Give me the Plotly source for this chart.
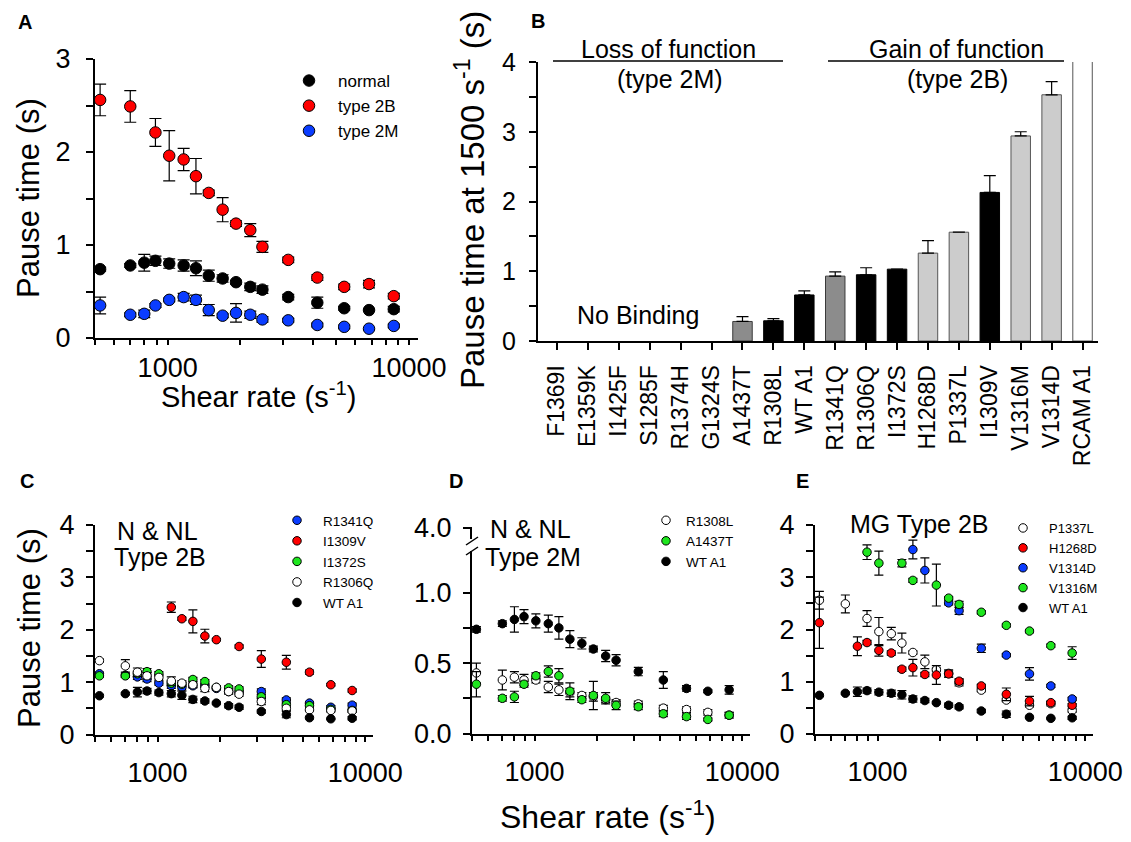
import plotly.graph_objects as go

# The page body adds an 8 px margin, so the figure is laid out in reference pixels shifted by it.
OFF = 8
FW, FH = 1131 - OFF, 842 - OFF
FONT = "Liberation Sans, Arial, sans-serif"

# ---------------- data ----------------
shear = [525, 700, 800, 890, 1015, 1165, 1310, 1480, 1690, 1920, 2200, 2470, 3160, 4170, 5390, 6830, 8650]

wt_y = [0.74, 0.78, 0.81, 0.83, 0.80, 0.78, 0.75, 0.67, 0.64, 0.60, 0.55, 0.52, 0.44, 0.38, 0.32, 0.30, 0.31]
wt_e = [0.02, 0.02, 0.09, 0.05, 0.05, 0.06, 0.08, 0.06, 0.04, 0.02, 0.04, 0.04, 0.03, 0.06, 0.02, 0.01, 0.03]

p1337l_idx = [0, 1, 3, 4, 5, 6, 7, 8, 9, 10, 11, 12, 13, 14, 15, 16]
p1337l_y = [2.56, 2.49, 2.21, 1.96, 1.92, 1.74, 1.56, 1.38, 1.23, 1.16, 0.98, 0.84, 0.65, 0.55, 0.58, 0.45]
p1337l_e = [0.17, 0.17, 0.15, 0.27, 0.12, 0.19, 0.03, 0.13, 0.03, 0.07, 0.06, 0.03, 0.03, 0.03, 0.04, 0.03]

a1437t_y = [0.35, 0.25, 0.26, 0.35, 0.41, 0.44, 0.41, 0.30, 0.24, 0.27, 0.25, 0.20, 0.19, 0.14, 0.12, 0.10, 0.13]
a1437t_e = [0.09, 0.02, 0.04, 0.02, 0.02, 0.04, 0.05, 0.06, 0.02, 0.10, 0.04, 0.03, 0.02, 0.02, 0.02, 0.01, 0.02]

r1308l_y = [0.43, 0.38, 0.40, 0.38, 0.38, 0.33, 0.31, 0.29, 0.27, 0.26, 0.24, 0.22, 0.21, 0.18, 0.17, 0.15, 0.13]
r1308l_e = [0.07, 0.07, 0.04, 0.04, 0.02, 0.04, 0.04, 0.03, 0.02, 0.03, 0.02, 0.02, 0.02, 0.02, 0.02, 0.02, 0.02]

r1341q_y = [1.16, 1.13, 1.10, 1.06, 0.98, 0.93, 0.90, 0.93, 0.93, 0.88, 0.82, 0.80, 0.82, 0.66, 0.60, 0.52, 0.56]
r1341q_e = [0.03, 0.04, 0.05, 0.05, 0.04, 0.05, 0.05, 0.04, 0.03, 0.03, 0.04, 0.04, 0.05, 0.04, 0.03, 0.03, 0.04]

i1309v_idx = [5, 6, 7, 8, 9, 11, 12, 13, 14, 15, 16]
i1309v_y = [2.43, 2.21, 2.16, 1.88, 1.81, 1.68, 1.44, 1.38, 1.19, 0.95, 0.84]
i1309v_e = [0.10, 0.03, 0.22, 0.13, 0.02, 0.03, 0.16, 0.13, 0.04, 0.02, 0.03]

i1372s_y = [1.12, 1.12, 1.16, 1.20, 1.16, 0.98, 0.96, 1.05, 1.01, 0.90, 0.89, 0.87, 0.72, 0.57, 0.55, 0.48, 0.46]
i1372s_e = [0.03, 0.03, 0.05, 0.06, 0.04, 0.04, 0.04, 0.04, 0.04, 0.03, 0.04, 0.04, 0.04, 0.03, 0.03, 0.03, 0.03]

r1306q_y = [1.41, 1.31, 1.19, 1.12, 1.09, 1.02, 0.98, 0.95, 0.88, 0.90, 0.82, 0.77, 0.63, 0.50, 0.47, 0.46, 0.45]
r1306q_e = [0.03, 0.12, 0.08, 0.06, 0.05, 0.08, 0.05, 0.05, 0.06, 0.03, 0.05, 0.04, 0.06, 0.04, 0.03, 0.03, 0.03]

h1268d_idx = [0, 2, 3, 4, 5, 6, 7, 8, 9, 10, 11, 12, 13, 14, 15, 16]
h1268d_y = [2.13, 1.68, 1.75, 1.60, 1.55, 1.24, 1.27, 1.14, 1.13, 1.15, 1.01, 0.92, 0.76, 0.63, 0.60, 0.55]
h1268d_e = [0.49, 0.18, 0.04, 0.11, 0.04, 0.04, 0.16, 0.04, 0.18, 0.06, 0.05, 0.03, 0.12, 0.09, 0.03, 0.03]

v1314d_idx = [7, 8, 10, 11, 12, 13, 14, 15, 16]
v1314d_y = [3.53, 3.13, 2.51, 2.36, 1.64, 1.51, 1.15, 0.92, 0.67]
v1314d_e = [0.18, 0.24, 0.04, 0.07, 0.08, 0.03, 0.12, 0.03, 0.03]

v1316m_idx = [3, 4, 6, 7, 9, 10, 11, 12, 13, 14, 15, 16]
v1316m_y = [3.48, 3.27, 3.27, 2.94, 2.85, 2.60, 2.48, 2.33, 2.08, 1.97, 1.69, 1.55]
v1316m_e = [0.14, 0.23, 0.07, 0.04, 0.40, 0.03, 0.06, 0.03, 0.03, 0.03, 0.03, 0.12]

bar_cats = ["F1369I", "E1359K", "I1425F", "S1285F", "R1374H", "G1324S", "A1437T", "R1308L",
            "WT A1", "R1341Q", "R1306Q", "I1372S", "H1268D", "P1337L", "I1309V", "V1316M",
            "V1314D", "RCAM A1"]
bar_vals = [None, None, None, None, None, None, 0.28, 0.29, 0.66, 0.93, 0.95, 1.03, 1.26, 1.56,
            2.13, 2.94, 3.53, None]
bar_errs = [0, 0, 0, 0, 0, 0, 0.07, 0.03, 0.06, 0.06, 0.10, 0, 0.18, 0, 0.24, 0.06, 0.19, 0]
bar_group = ["", "", "", "", "", "", "mid", "dark", "dark", "mid", "dark", "dark", "light", "light",
             "dark", "light", "light", "off"]
rcam_val = 5.0  # off-scale (never releases)

log_major = [1000, 10000]
log_minor = [500, 600, 700, 800, 900, 2000, 3000, 4000, 5000, 6000, 7000, 8000, 9000]

# ---------------- helpers ----------------
def px(x):
    return (x - OFF) / FW


def py(y):
    return 1 - (y - OFF) / FH


def sub(vals, idx):
    return [vals[i] for i in idx]


RED = "#ff0000"
BLUE = "#0a3cff"
GREEN = "#1ee61e"

fig = go.Figure()


def add_series(x, y, e, color, name, xa, ya, leg, size, capw):
    fig.add_trace(go.Scatter(
        x=x, y=y, mode="markers", name=name, xaxis=xa, yaxis=ya, legend=leg,
        marker=dict(size=size, color=color, line=dict(color="black", width=1)),
        error_y=dict(type="data", array=e, color="black", thickness=1.2, width=capw),
        cliponaxis=False,
    ))


# Panel A
add_series(shear, wt_y, wt_e, "black", "normal", "x", "y", "legend", 11.5, 6)
add_series(sub(shear, p1337l_idx), p1337l_y, p1337l_e, RED, "type 2B", "x", "y", "legend", 11.5, 6)
add_series(shear, a1437t_y, a1437t_e, BLUE, "type 2M", "x", "y", "legend", 11.5, 6)

# Panel B
col_map = {"dark": "black", "mid": "#8c8c8c", "light": "#cccccc", "off": "white", "": "white"}
line_map = {"dark": "black", "mid": "#3a3a3a", "light": "#555555", "off": "#555555", "": "#555555"}
b_vals = [rcam_val if g == "off" else v for v, g in zip(bar_vals, bar_group)]
fig.add_trace(go.Bar(
    x=bar_cats, y=b_vals, xaxis="x2", yaxis="y2", width=0.63, showlegend=False,
    marker=dict(color=[col_map[g] for g in bar_group],
                line=dict(color=[line_map[g] for g in bar_group], width=1)),
    error_y=dict(type="data", symmetric=False, array=bar_errs, arrayminus=[0] * len(bar_errs),
                 color="black", thickness=1.2, width=6),
))

# Panel C
for x, y, e, c, n in [
    (shear, r1341q_y, r1341q_e, BLUE, "R1341Q"),
    (sub(shear, i1309v_idx), i1309v_y, i1309v_e, RED, "I1309V"),
    (shear, i1372s_y, i1372s_e, GREEN, "I1372S"),
    (shear, r1306q_y, r1306q_e, "white", "R1306Q"),
    (shear, wt_y, wt_e, "black", "WT A1"),
]:
    add_series(x, y, e, c, n, "x3", "y3", "legend2", 8.5, 4.5)

# Panel D
for x, y, e, c, n in [
    (shear, r1308l_y, r1308l_e, "white", "R1308L"),
    (shear, a1437t_y, a1437t_e, GREEN, "A1437T"),
    (shear, wt_y, wt_e, "black", "WT A1"),
]:
    add_series(x, y, e, c, n, "x4", "y4", "legend3", 8.5, 4.5)

# Panel E
for x, y, e, c, n in [
    (sub(shear, p1337l_idx), p1337l_y, p1337l_e, "white", "P1337L"),
    (sub(shear, h1268d_idx), h1268d_y, h1268d_e, RED, "H1268D"),
    (sub(shear, v1314d_idx), v1314d_y, v1314d_e, BLUE, "V1314D"),
    (sub(shear, v1316m_idx), v1316m_y, v1316m_e, GREEN, "V1316M"),
    (shear, wt_y, wt_e, "black", "WT A1"),
]:
    add_series(x, y, e, c, n, "x5", "y5", "legend4", 8.5, 4.5)

# ---------------- axes ----------------
LOGR = [2.69897, 4.0374]
AX = dict(ticks="outside", tickwidth=1.5, showline=True, linewidth=2, linecolor="black",
          tickcolor="black", showgrid=False, zeroline=False, automargin=False)


def xlog(x0, x1, anchor, size, standoff):
    return dict(domain=[px(x0), px(x1)], type="log", range=LOGR, anchor=anchor,
                tickvals=log_major, ticktext=[str(v) for v in log_major], ticklen=5,
                minor=dict(tickvals=log_minor, ticks="outside", ticklen=5, tickwidth=1.5,
                           tickcolor="black", showgrid=False),
                tickfont=dict(size=size, color="black", family=FONT), ticklabelstandoff=standoff,
                **AX)


def ylin(y0, y1, anchor, rng, vals, minor_vals, text, size, standoff=6):
    return dict(domain=[py(y0), py(y1)], range=rng, anchor=anchor, tickvals=vals, ticktext=text,
                ticklen=7,
                minor=dict(tickvals=minor_vals, ticks="outside", ticklen=7, tickwidth=1.5,
                           tickcolor="black", showgrid=False),
                tickfont=dict(size=size, color="black", family=FONT), ticklabelstandoff=standoff,
                **AX)


def ints(n):
    return list(range(n + 1))


def halves(n):
    return [i + 0.5 for i in range(n)]


fig.update_layout(
    xaxis=xlog(95, 418, "y", 27, 0),
    yaxis=ylin(338, 59, "x", [0, 3], ints(3), halves(3), [str(v) for v in ints(3)], 27, 10),
    xaxis2=dict(domain=[px(538), px(1098)], range=[-0.615, 17.5], anchor="y2", type="category",
                ticklen=7, tickangle=-90, tickfont=dict(size=23, color="black", family=FONT),
                ticklabelstandoff=6, **AX),
    yaxis2=ylin(341, 62, "x2", [0, 4], ints(4), halves(4), [str(v) for v in ints(4)], 25, 8),
    xaxis3=xlog(95, 373, "y3", 27, 8),
    yaxis3=ylin(734.5, 525, "x3", [0, 4], ints(4), halves(4), [str(v) for v in ints(4)], 27, 6),
    xaxis4=xlog(472, 750, "y4", 27, 8),
    yaxis4=ylin(733.5, 526.5, "x4", [0, 1.47], [0, 0.5, 1.0, 1.46], [0.25, 0.75],
                ["0.0", "0.5", "1.0", "4.0"], 27, 6),
    xaxis5=xlog(815, 1093, "y5", 27, 8),
    yaxis5=ylin(734, 525, "x5", [0, 4], ints(4), halves(4), [str(v) for v in ints(4)], 27, 6),
)

leg_common = dict(bgcolor="rgba(0,0,0,0)", borderwidth=0, xanchor="left", yanchor="top",
                  itemclick=False, itemdoubleclick=False)
fig.update_layout(
    legend=dict(x=px(280), y=py(63), font=dict(size=17, family=FONT, color="black"),
                itemwidth=48, **leg_common),
    legend2=dict(x=px(271), y=py(505), font=dict(size=13.5, family=FONT, color="black"),
                 itemwidth=42, **leg_common),
    legend3=dict(x=px(646), y=py(505), font=dict(size=13.5, family=FONT, color="black"),
                 itemwidth=30, **leg_common),
    legend4=dict(x=px(997), y=py(513), font=dict(size=13, family=FONT, color="black"),
                 itemwidth=42, **leg_common),
)

# ---------------- annotations & decorations ----------------
ann = []


def text(x, y, s, size, xanchor="center", angle=0, bold=False):
    ann.append(dict(x=px(x), y=py(y), xref="paper", yref="paper", text=f"<b>{s}</b>" if bold else s,
                    showarrow=False, xanchor=xanchor, yanchor="middle", textangle=angle,
                    font=dict(size=size, family=FONT, color="black")))


text(25, 22, "A", 20, bold=True)
text(538, 21, "B", 20, bold=True)
text(27, 481, "C", 20, bold=True)
text(456, 481, "D", 20, bold=True)
text(802, 481, "E", 20, bold=True)

text(28, 198, "Pause time (s)", 31, angle=-90)
text(258, 395, "Shear rate (s<sup>-1</sup>)", 29)
text(470, 200, "Pause time at 1500 s<sup>-1</sup> (s)", 33, angle=-90)
text(29, 628, "Pause time (s)", 31, angle=-90)
text(608, 815, "Shear rate (s<sup>-1</sup>)", 32)

text(668, 49, "Loss of function", 25)
text(670, 79, "(type 2M)", 25)
text(956, 49, "Gain of function", 25)
text(957, 79, "(type 2B)", 25)
text(638, 315, "No Binding", 25)

text(115, 531, "N &amp; NL", 25, xanchor="left")
text(112, 557, "Type 2B", 25, xanchor="left")
text(488, 529, "N &amp; NL", 25, xanchor="left")
text(483, 557, "Type 2M", 25, xanchor="left")
text(919, 524, "MG Type 2B", 25)

shapes = []


def seg(x0, y0, x1, y1, w=1.5, color="black"):
    shapes.append(dict(type="line", xref="paper", yref="paper", x0=px(x0), y0=py(y0),
                       x1=px(x1), y1=py(y1), line=dict(color=color, width=w)))


seg(553, 61, 783, 61)
seg(828, 61, 1064, 61)

# broken axis in panel D
shapes.append(dict(type="rect", xref="paper", yref="paper", x0=px(468), x1=px(476),
                   y0=py(551), y1=py(539), fillcolor="white", line=dict(width=0), layer="above"))
seg(466, 545, 478, 537)
seg(466, 555, 478, 547)

fig.update_layout(
    annotations=ann, shapes=shapes,
    width=FW, height=FH, margin=dict(l=0, r=0, t=0, b=0, pad=0, autoexpand=False),
    paper_bgcolor="white", plot_bgcolor="white",
    font=dict(family=FONT, color="black"),
    bargap=0.2, barmode="overlay",
)

fig.write_html("out.html")
